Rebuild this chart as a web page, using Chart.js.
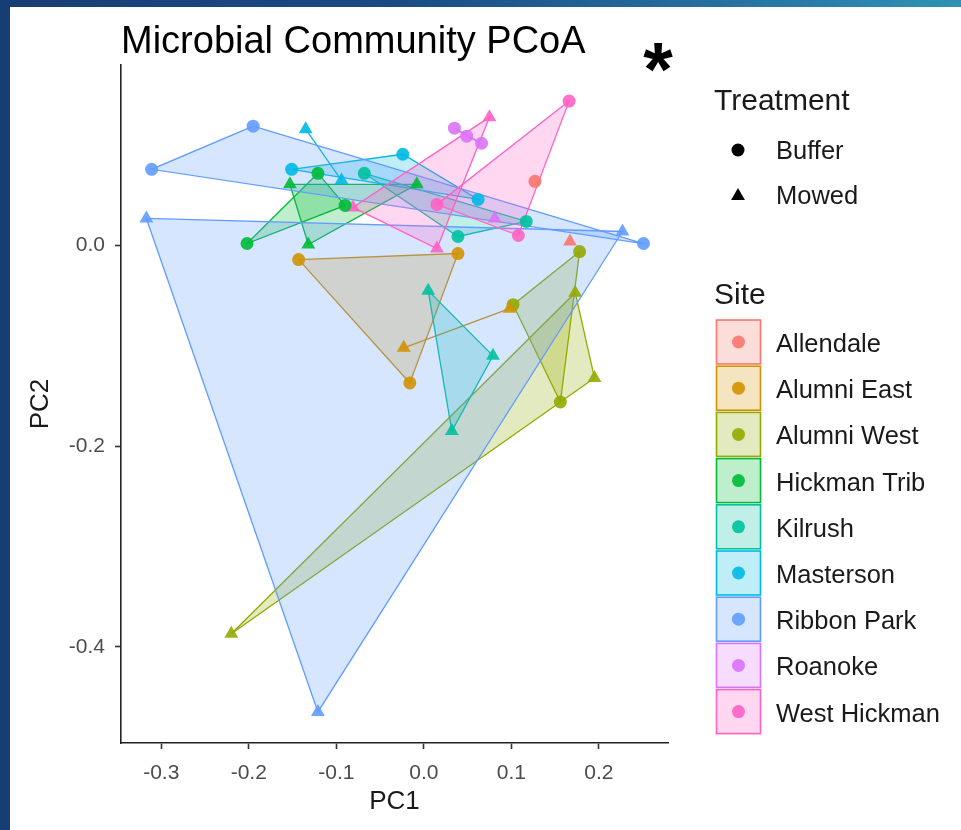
<!DOCTYPE html>
<html>
<head>
<meta charset="utf-8">
<title>Microbial Community PCoA</title>
<script src="https://cdn.jsdelivr.net/npm/chart.js@4.4.0/dist/chart.umd.min.js"></script>
<style>
  html, body { margin: 0; padding: 0; }
  body {
    width: 961px; height: 830px; overflow: hidden;
    background: linear-gradient(90deg, #173e74 0%, #1b4a83 40%, #2670a0 75%, #2f92b4 100%);
  }
  canvas { display: block; }
</style>
</head>
<body>
<canvas id="pcoa" width="961" height="830"></canvas>
<script>
// ---- data -------------------------------------------------------------
const plotTitle = 'Microbial Community PCoA';
const treatments = ['Buffer', 'Mowed'];
const sites = ['Allendale', 'Alumni East', 'Alumni West', 'Hickman Trib', 'Kilrush',
               'Masterson', 'Ribbon Park', 'Roanoke', 'West Hickman'];

// Buffer samples (circles), one list per site
const bufferPC1 = [
  [0.127],
  [-0.143, 0.039, -0.016],
  [0.178, 0.102, 0.156],
  [-0.121, -0.202, -0.090],
  [-0.068, 0.117, 0.039],
  [-0.151, -0.024, 0.062],
  [-0.195, -0.311, 0.251],
  [0.035, 0.049, 0.066],
  [0.166, 0.108, 0.015]
];
const bufferPC2 = [
  [0.064],
  [-0.014, -0.008, -0.137],
  [-0.006, -0.059, -0.156],
  [0.072, 0.002, 0.040],
  [0.072, 0.024, 0.009],
  [0.076, 0.091, 0.046],
  [0.119, 0.076, 0.002],
  [0.117, 0.109, 0.102],
  [0.144, 0.010, 0.041]
];

// Mowed samples (triangles), one list per site
const mowedPC1 = [
  [0.167],
  [-0.023, 0.098],
  [0.173, 0.195, -0.220],
  [-0.153, -0.132, -0.008],
  [0.005, 0.079, 0.032],
  [-0.135, -0.094],
  [-0.317, -0.121, 0.227],
  [0.081],
  [0.075, -0.081, 0.015]
];
const mowedPC2 = [
  [0.004],
  [-0.102, -0.063],
  [-0.047, -0.132, -0.387],
  [0.061, 0.001, 0.061],
  [-0.045, -0.110, -0.185],
  [0.116, 0.065],
  [0.027, -0.465, 0.014],
  [0.027],
  [0.128, 0.038, -0.003]
];

const xTicks = [-0.3, -0.2, -0.1, 0.0, 0.1, 0.2];
const yTicks = [-0.4, -0.2, 0.0];
const xRange = [-0.346, 0.279];
const yRange = [-0.496, 0.180];

// ---- style --------------------------------------------------------------
const siteColors = ['#F8766D', '#D39200', '#93AA00', '#00BA38', '#00C19F',
                    '#00B9E3', '#619CFF', '#DB72FB', '#FF61C3'];
const FONT = "'Liberation Sans', Arial, sans-serif";
Chart.defaults.font.family = FONT;

function rgba(hex, a) {
  const n = parseInt(hex.slice(1), 16);
  return `rgba(${(n >> 16) & 255},${(n >> 8) & 255},${n & 255},${a})`;
}

// ---- datasets: one outlined, filled polygon per site x treatment, points on top
const datasets = [];
let group = 0;
sites.forEach((site, i) => {
  const col = siteColors[i];
  const groups = [
    { trt: treatments[0], xs: bufferPC1[i], ys: bufferPC2[i], shape: 'circle', r: 6.5 },
    { trt: treatments[1], xs: mowedPC1[i], ys: mowedPC2[i], shape: 'triangle', r: 8 }
  ];
  groups.forEach(g => {
    const pts = g.xs.map((x, k) => ({ x: x, y: g.ys[k] }));
    if (pts.length > 1) {
      datasets.push({
        type: 'line',
        label: site + ' ' + g.trt + ' hull',
        data: pts.concat([pts[0]]),
        fill: 'shape',
        backgroundColor: rgba(col, 0.25),
        borderColor: col,
        borderWidth: 1.3,
        pointRadius: 0,
        tension: 0,
        order: 100 - group
      });
    }
    datasets.push({
      type: 'scatter',
      label: site + ' ' + g.trt,
      data: pts,
      pointStyle: g.shape,
      pointRadius: g.r,
      pointBackgroundColor: rgba(col, 0.9),
      pointBorderWidth: 0,
      borderColor: 'rgba(0,0,0,0)',
      order: 0
    });
    group++;
  });
});

function drawMarker(ctx, shape, x, y, r) {
  ctx.beginPath();
  if (shape === 'circle') {
    ctx.arc(x, y, r, 0, Math.PI * 2);
  } else {
    for (let k = 0; k < 3; k++) {
      const a = k * 2 * Math.PI / 3;
      const px = x + Math.sin(a) * r, py = y - Math.cos(a) * r;
      if (k === 0) ctx.moveTo(px, py); else ctx.lineTo(px, py);
    }
    ctx.closePath();
  }
  ctx.fill();
}

// white panel behind the plot, then title, marker note and the two legends
const decor = {
  id: 'decor',
  beforeDraw(chart) {
    const c = chart.ctx;
    c.save();
    c.fillStyle = '#ffffff';
    c.fillRect(10, 7, 951, 823);
    c.restore();
  },
  afterDraw(chart) {
    const c = chart.ctx;
    c.save();
    c.textBaseline = 'alphabetic';
    c.textAlign = 'left';
    c.fillStyle = '#000';
    c.font = `38px ${FONT}`;
    c.fillText(plotTitle, 121, 53);

    c.textAlign = 'center';
    c.font = `bold 76px ${FONT}`;
    c.fillText('*', 658, 95);

    // Treatment legend
    c.textAlign = 'left';
    c.fillStyle = '#1a1a1a';
    c.font = `30px ${FONT}`;
    c.fillText('Treatment', 714, 110);
    c.font = `25.5px ${FONT}`;
    c.fillText(treatments[0], 776, 159);
    c.fillText(treatments[1], 776, 204);
    c.fillStyle = '#000';
    drawMarker(c, 'circle', 738, 150, 6.5);
    drawMarker(c, 'triangle', 738, 196, 8);

    // Site legend
    c.fillStyle = '#1a1a1a';
    c.font = `30px ${FONT}`;
    c.fillText('Site', 714, 304);
    sites.forEach((s, i) => {
      const cy = 342 + 46.2 * i;
      const col = siteColors[i];
      c.fillStyle = '#fff';
      c.fillRect(716.5, cy - 22, 44, 44);
      c.fillStyle = rgba(col, 0.25);
      c.fillRect(716.5, cy - 22, 44, 44);
      c.strokeStyle = col;
      c.lineWidth = 1.6;
      c.strokeRect(716.5, cy - 22, 44, 44);
      c.fillStyle = rgba(col, 0.9);
      drawMarker(c, 'circle', 738.5, cy, 6.5);
      c.fillStyle = '#1a1a1a';
      c.font = `25.5px ${FONT}`;
      c.fillText(s, 776, cy + 10);
    });
    c.restore();
  }
};

const axisCommon = {
  type: 'linear',
  grid: { display: true, drawOnChartArea: false, drawTicks: true, tickLength: 6,
          tickColor: '#333', tickWidth: 1.6 },
  border: { display: true, color: '#222', width: 1.6 },
};

new Chart(document.getElementById('pcoa'), {
  type: 'scatter',
  data: { datasets: datasets },
  options: {
    responsive: false,
    animation: false,
    events: [],
    layout: { padding: { left: 10, top: 65, right: 293, bottom: 0 } },
    plugins: { legend: { display: false }, tooltip: { enabled: false }, title: { display: false } },
    scales: {
      x: Object.assign({}, axisCommon, {
        min: xRange[0], max: xRange[1],
        afterBuildTicks: s => { s.ticks = xTicks.map(v => ({ value: v })); },
        afterFit: s => { s.height = 87; },
        ticks: { color: '#4D4D4D', font: { size: 21 }, padding: 12, autoSkip: false,
                 maxRotation: 0, callback: v => Number(v).toFixed(1) },
        title: { display: true, text: 'PC1', color: '#1a1a1a', font: { size: 26 },
                 padding: { top: 0, bottom: 13 } }
      }),
      y: Object.assign({}, axisCommon, {
        min: yRange[0], max: yRange[1],
        afterBuildTicks: s => { s.ticks = yTicks.map(v => ({ value: v })); },
        afterFit: s => { s.width = 111; },
        ticks: { color: '#4D4D4D', font: { size: 21 }, padding: 10, autoSkip: false,
                 callback: v => Number(v).toFixed(1) },
        title: { display: true, text: 'PC2', color: '#1a1a1a', font: { size: 26 },
                 padding: { top: 15, bottom: 0 } }
      })
    }
  },
  plugins: [decor]
});
</script>
</body>
</html>
